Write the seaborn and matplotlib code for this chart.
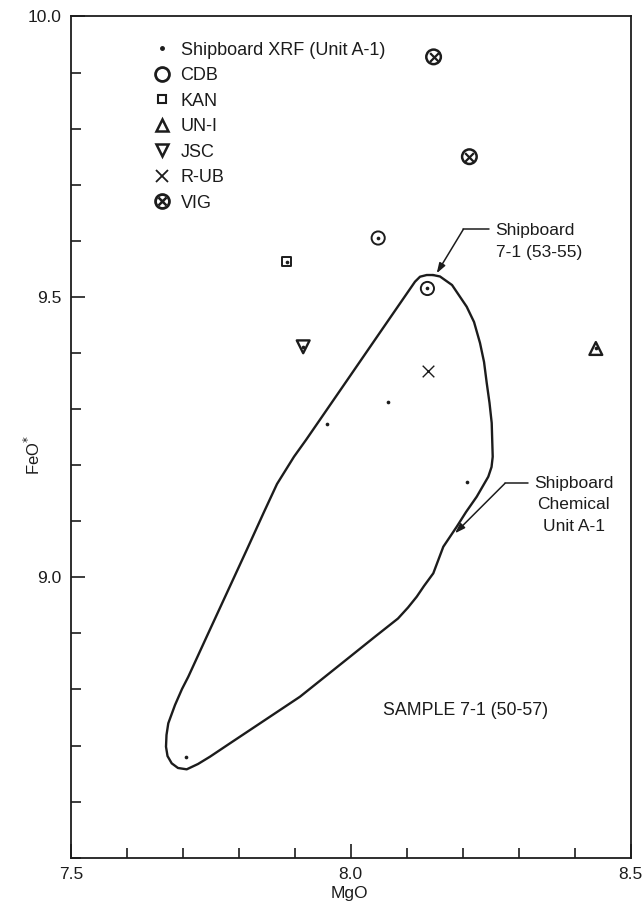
import numpy as np
import pandas as pd
import matplotlib
matplotlib.use("Agg")
import matplotlib.pyplot as plt
from matplotlib.lines import Line2D
from matplotlib.ticker import MultipleLocator, FixedLocator
import seaborn as sns

# ---------------- data ----------------
xrf_mgo = [7.958, 8.067, 8.208, 7.706]
xrf_feo = [9.273, 9.312, 9.170, 8.679]
cdb_mgo = [8.049, 8.137]
cdb_feo = [9.605, 9.515]
kan_mgo = [7.886]
kan_feo = [9.563]
uni_mgo = [8.438]
uni_feo = [9.408]
jsc_mgo = [7.915]
jsc_feo = [9.411]
rub_mgo = [8.138]
rub_feo = [9.367]
vig_mgo = [8.148, 8.212]
vig_feo = [9.928, 9.750]

# outline of Shipboard Chemical Unit A-1 field
unit_mgo = [8.1470, 8.1595, 8.1810, 8.2072, 8.2203, 8.2310, 8.2382, 8.2430, 8.2480,
            8.2519, 8.2537, 8.2516, 8.2458, 8.2251, 8.2060, 8.1894, 8.1654, 8.1475,
            8.1309, 8.1179, 8.1023, 8.0844, 8.0433, 7.9987, 7.9093, 7.8199, 7.7842,
            7.7484, 7.7270, 7.7068, 7.6912, 7.6800, 7.6725, 7.6698, 7.6707, 7.6739,
            7.6859, 7.6984, 7.7097, 7.7425, 7.7783, 7.8140, 7.8449, 7.8682, 7.8986,
            7.9200, 7.9938, 8.0553, 8.1148, 8.1238, 8.1357, 8.1470]
unit_feo = [9.5390, 9.5364, 9.5212, 9.4825, 9.4553, 9.4178, 9.3839, 9.3465, 9.3108,
            9.2752, 9.2150, 9.1967, 9.1794, 9.1437, 9.1164, 9.0902, 9.0545, 9.0071,
            8.9845, 8.9654, 8.9461, 8.9265, 8.8941, 8.8584, 8.7871, 8.7277, 8.7040,
            8.6801, 8.6671, 8.6576, 8.6600, 8.6683, 8.6813, 8.6979, 8.7188, 8.7397,
            8.7723, 8.8008, 8.8228, 8.8941, 8.9715, 9.0487, 9.1164, 9.1664, 9.2151,
            9.2449, 9.3518, 9.4410, 9.5271, 9.5360, 9.5390, 9.5390]

legend_labels = ["Shipboard XRF (Unit A-1)", "CDB", "KAN", "UN-I", "JSC", "R-UB", "VIG"]
x_ticks = [7.5, 8.0, 8.5]
y_ticks = [9.0, 9.5, 10.0]

# ---------------- style ----------------
sns.set_style("ticks")
FONT = ["Liberation Sans", "DejaVu Sans"]
plt.rcParams["font.family"] = FONT
INK = "#1c1c1c"
plt.rcParams.update({
    "axes.edgecolor": INK, "axes.linewidth": 1.3,
    "xtick.color": INK, "ytick.color": INK,
    "text.color": INK, "axes.labelcolor": INK,
})

fig = plt.figure(figsize=(6.43, 9.06), dpi=100)
ax = fig.add_axes([0.1104, 0.0533, 0.8702, 0.9285])

# field outline
unit_df = pd.DataFrame({"MgO": unit_mgo, "FeO": unit_feo})
sns.lineplot(data=unit_df, x="MgO", y="FeO", sort=False, estimator=None,
             color=INK, lw=1.7, ax=ax)
for ln in ax.lines:
    ln.set_solid_joinstyle("round")

dot_kw = dict(marker="o", s=7, color=INK, edgecolor=INK, linewidth=0, zorder=5)
open_kw = dict(facecolor="none", edgecolor=INK, zorder=4)

# shipboard XRF dots
sns.scatterplot(x=xrf_mgo, y=xrf_feo, ax=ax, **dot_kw)
# CDB
sns.scatterplot(x=cdb_mgo, y=cdb_feo, marker="o", s=90, linewidth=1.4, ax=ax, **open_kw)
sns.scatterplot(x=cdb_mgo, y=cdb_feo, ax=ax, **dot_kw)
# KAN
sns.scatterplot(x=kan_mgo, y=kan_feo, marker="s", s=42, linewidth=1.4, ax=ax, **open_kw)
sns.scatterplot(x=kan_mgo, y=kan_feo, ax=ax, **dot_kw)
# UN-I
sns.scatterplot(x=uni_mgo, y=uni_feo, marker="^", s=85, linewidth=1.7, ax=ax, **open_kw)
sns.scatterplot(x=uni_mgo, y=uni_feo, ax=ax, **dot_kw)
# JSC
sns.scatterplot(x=jsc_mgo, y=jsc_feo, marker="v", s=85, linewidth=1.7, ax=ax, **open_kw)
sns.scatterplot(x=jsc_mgo, y=jsc_feo, ax=ax, **dot_kw)
# R-UB
sns.scatterplot(x=rub_mgo, y=rub_feo, marker="x", s=70, linewidth=1.0, color=INK, ax=ax, zorder=4)
# VIG
sns.scatterplot(x=vig_mgo, y=vig_feo, marker="o", s=110, linewidth=1.8, ax=ax, **open_kw)
sns.scatterplot(x=vig_mgo, y=vig_feo, marker="x", s=40, linewidth=1.6, color=INK, ax=ax, zorder=4)

# ---------------- axes ----------------
ax.set_xlim(7.5, 8.5)
ax.set_ylim(8.5, 10.0)
ax.xaxis.set_major_locator(FixedLocator(x_ticks))
ax.yaxis.set_major_locator(FixedLocator(y_ticks))
ax.xaxis.set_minor_locator(MultipleLocator(0.1))
ax.yaxis.set_minor_locator(MultipleLocator(0.1))
ax.set_xticklabels([f"{v:.1f}" for v in x_ticks])
ax.set_yticklabels([f"{v:.1f}" for v in y_ticks])
ax.tick_params(which="both", direction="in", top=False, right=False,
               labelsize=12.5, width=1.2, pad=7)
ax.tick_params(which="major", length=10)
ax.tick_params(which="minor", length=7)
for s in ax.spines.values():
    s.set_visible(True)

ax.set_xlabel("MgO", fontsize=12.5)
ax.set_ylabel(r"FeO$^{*}$", fontsize=12)
ax.xaxis.set_label_coords(0.497, -0.034)
ax.yaxis.set_label_coords(-0.050, 0.479)

# ---------------- legend ----------------
h_dot = Line2D([], [], ls="none", marker="o", ms=2.5, color=INK)
h_cdb = Line2D([], [], ls="none", marker="o", ms=10, mfc="none", mec=INK, mew=2.0)
h_kan = Line2D([], [], ls="none", marker="s", ms=6, mfc="none", mec=INK, mew=1.5)
h_uni = Line2D([], [], ls="none", marker="^", ms=8.5, mfc="none", mec=INK, mew=1.8)
h_jsc = Line2D([], [], ls="none", marker="v", ms=8.5, mfc="none", mec=INK, mew=1.8)
h_rub = Line2D([], [], ls="none", marker="x", ms=9, mec=INK, mew=1.3)
h_vig_o = Line2D([], [], ls="none", marker="o", ms=10, mfc="none", mec=INK, mew=2.0)
h_vig_x = Line2D([], [], ls="none", marker="x", ms=5.5, mec=INK, mew=1.8)
handles = [h_dot, h_cdb, h_kan, h_uni, h_jsc, h_rub, (h_vig_o, h_vig_x)]
ax.legend(handles, legend_labels, loc="upper left", bbox_to_anchor=(0.147, 0.970),
          frameon=False, fontsize=13, handlelength=0.96, handletextpad=0.55,
          labelspacing=0.47, borderpad=0, borderaxespad=0, markerscale=1.0)

# ---------------- annotations ----------------
txt_kw = dict(fontsize=12.5, color=INK)
ax.text(8.259, 9.5984, "Shipboard\n7-1 (53-55)", ha="left", va="center",
        linespacing=1.55, **txt_kw)
ax.plot([8.2476, 8.2012], [9.6205, 9.6205], color=INK, lw=1.1)
ax.annotate("", xy=(8.1536, 9.5421), xytext=(8.2012, 9.6205),
            arrowprops=dict(arrowstyle="-|>,head_length=0.6,head_width=0.2",
                            color=INK, lw=1.1, shrinkA=0, shrinkB=0))

ax.text(8.3986, 9.129, "Shipboard\nChemical\nUnit A-1", ha="center", va="center",
        multialignment="center", linespacing=1.55, **txt_kw)
ax.plot([8.3173, 8.2757], [9.1676, 9.1676], color=INK, lw=1.1)
ax.annotate("", xy=(8.1863, 9.0785), xytext=(8.2757, 9.1676),
            arrowprops=dict(arrowstyle="-|>,head_length=0.6,head_width=0.2",
                            color=INK, lw=1.1, shrinkA=0, shrinkB=0))

ax.text(8.0576, 8.762, "SAMPLE 7-1 (50-57)", ha="left", va="center",
        fontsize=12.8, color=INK)

fig.savefig("out.png", dpi=100)
